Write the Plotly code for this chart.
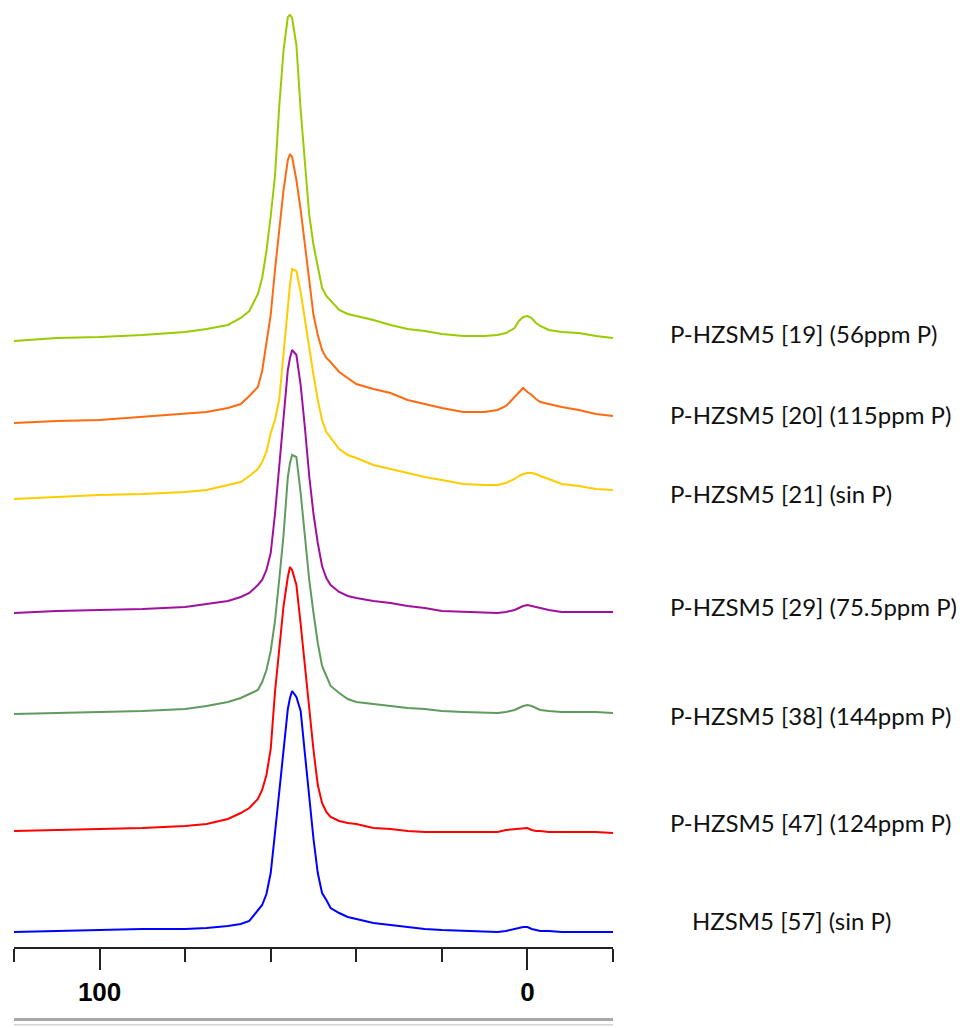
import plotly.graph_objects as go

# Chemical shift grid (ppm), shared by all spectra
ppm = [120, 110, 100, 90, 80, 75, 70, 67, 65, 63, 62, 61, 60, 59, 58, 57, 56, 55.5, 55,
       54, 53, 52, 51, 50, 49, 48, 47, 46, 44, 42, 40, 36, 32, 28, 24, 20, 15, 10, 7, 5,
       3, 2, 1, 0, -1, -2, -3, -5, -8, -12, -16, -20]

# Sample names, top to bottom
labels = [
    "P-HZSM5 [19] (56ppm P)",
    "P-HZSM5 [20] (115ppm P)",
    "P-HZSM5 [21] (sin P)",
    "P-HZSM5 [29] (75.5ppm P)",
    "P-HZSM5 [38] (144ppm P)",
    "P-HZSM5 [47] (124ppm P)",
    "HZSM5 [57] (sin P)",
]

# 27Al MAS NMR intensities (arbitrary units), one list per sample
i_19 = [0, 3, 4, 6, 9, 12, 16, 23, 30, 47, 63, 90, 125, 165, 235, 291, 324, 326, 323,
        296, 231, 176, 126, 96, 74, 53, 45, 40, 31, 27, 25, 21, 16, 12, 10, 7, 5, 5, 6, 8,
        13, 20, 24, 25, 23, 18, 15, 11, 9, 8, 5, 3]
i_20 = [0, 2, 3, 6, 9, 11, 15, 19, 27, 36, 52, 78, 108, 153, 193, 233, 263, 269, 266,
        243, 213, 178, 138, 108, 88, 73, 65, 61, 51, 45, 39, 34, 30, 23, 19, 15, 11, 11, 13, 17,
        26, 31, 35, 31, 28, 24, 21, 19, 16, 13, 9, 7]
i_21 = [0, 2, 4, 5, 7, 9, 14, 17, 23, 30, 37, 47, 66, 79, 100, 149, 196, 214, 230,
        228, 207, 179, 149, 124, 99, 79, 67, 61, 50, 44, 41, 34, 30, 26, 22, 19, 15, 14, 14, 16,
        20, 23, 25, 26, 26, 25, 23, 20, 15, 13, 10, 9]
i_29 = [0, 2, 3, 4, 6, 9, 12, 16, 20, 28, 33, 43, 60, 99, 149, 195, 243, 255, 263,
        258, 228, 185, 137, 99, 70, 47, 35, 28, 21, 17, 15, 12, 10, 7, 5, 2, 1, 0, 0, 1,
        3, 5, 7, 8, 7, 6, 5, 3, 1, 1, 1, 1]
i_38 = [0, 1, 2, 3, 5, 8, 12, 16, 20, 24, 32, 44, 63, 93, 135, 179, 237, 251, 259,
        257, 221, 177, 134, 101, 71, 48, 37, 28, 21, 15, 12, 10, 8, 6, 5, 3, 2, 1, 1, 2,
        4, 6, 8, 9, 8, 6, 4, 3, 2, 2, 2, 1]
i_47 = [0, 1, 2, 3, 5, 7, 12, 18, 23, 32, 41, 56, 82, 139, 182, 225, 254, 264, 261,
        246, 207, 164, 121, 81, 46, 28, 19, 14, 10, 8, 7, 3, 2, 0, -1, -1, -1, -1, -1, 1,
        2, 2, 3, 3, 1, 0, 0, -1, -1, -1, -1, -2]
i_57 = [0, 1, 2, 3, 3, 4, 6, 8, 11, 21, 27, 38, 59, 99, 142, 179, 223, 234, 241,
        235, 221, 178, 135, 93, 59, 39, 32, 24, 19, 15, 13, 9, 7, 5, 3, 2, 1, 0, 0, 1,
        3, 4, 5, 5, 3, 2, 1, 1, 0, 0, 0, 0]

spectra = [i_19, i_20, i_21, i_29, i_38, i_47, i_57]

# Vertical stacking offsets of each spectrum
offsets = [606, 524, 448, 334, 233, 116, 15]

colors = ["#99cc00", "#ff6a10", "#ffcc00", "#a0109f", "#5f9a5f", "#ff0000", "#0000ff"]

# Vertical position of each sample name
label_y = [614, 533, 454, 341, 232, 125, 27]
label_x = [1.092, 1.092, 1.092, 1.092, 1.092, 1.092, 1.129]

fig = go.Figure()
for vals, off, col in zip(spectra, offsets, colors):
    fig.add_trace(go.Scatter(
        x=ppm, y=[v + off for v in vals], mode="lines",
        line=dict(color=col, width=2), hoverinfo="skip", showlegend=False,
    ))

for text, ly, lx in zip(labels, label_y, label_x):
    fig.add_annotation(
        x=lx, xref="paper", y=ly, yref="y", text=text, showarrow=False,
        xanchor="left", yanchor="middle",
        font=dict(family="Lato, Open Sans, sans-serif", size=24, color="#111111"),
    )

# Double grey rule under the axis
fig.add_shape(type="line", xref="paper", yref="paper", x0=0.0, x1=1.0,
              y0=-0.0765, y1=-0.0765, line=dict(color="#a8a8a8", width=3))
fig.add_shape(type="line", xref="paper", yref="paper", x0=0.0, x1=1.0,
              y0=-0.082, y1=-0.082, line=dict(color="#d4d4d4", width=1.5))

fig.update_layout(
    width=969, height=1028,
    margin=dict(l=14, r=356, t=0, b=81),
    paper_bgcolor="white", plot_bgcolor="white",
    xaxis=dict(
        range=[120, -20], showgrid=False, zeroline=False,
        showline=True, linecolor="#222222", linewidth=2,
        tickvals=[100, 0], ticktext=["<b>100</b>", "<b>0</b>"],
        ticks="outside", ticklen=21, tickwidth=2, tickcolor="#222222",
        tickfont=dict(family="Liberation Sans Narrow, Liberation Sans, Arial", size=26, color="#000000"),
        minor=dict(tickvals=[120, 80, 60, 40, 20, -20], ticks="outside",
                   ticklen=13, tickwidth=2, tickcolor="#222222"),
    ),
    yaxis=dict(range=[0, 947], visible=False),
)

fig.write_html("out.html")
